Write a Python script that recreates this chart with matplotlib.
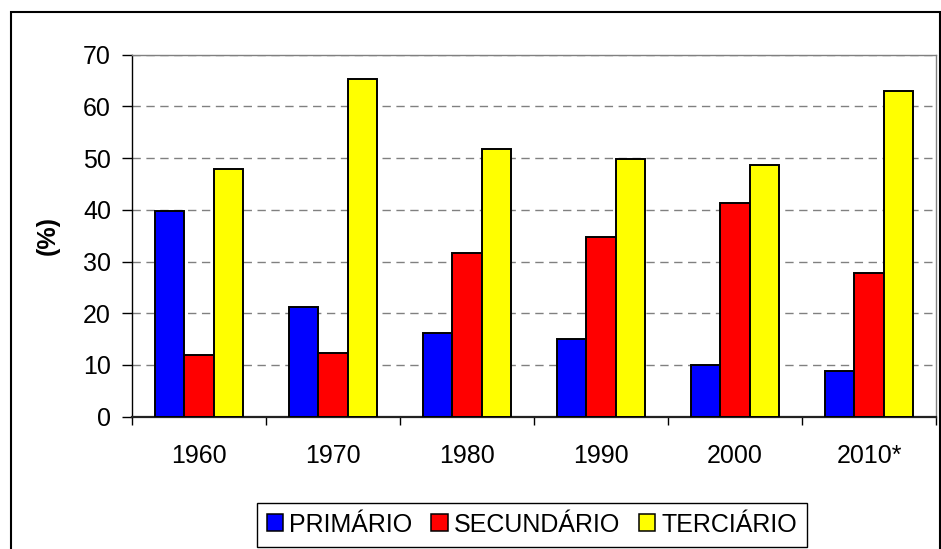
import numpy as np
from matplotlib import pyplot as plt
from matplotlib import rcParams
from matplotlib.patches import Rectangle

rcParams['font.family'] = ['Liberation Sans', 'DejaVu Sans']
rcParams['font.size'] = 18

years = ['1960', '1970', '1980', '1990', '2000', '2010*']
primario = [39.8, 21.3, 16.2, 15.0, 10.0, 8.9]
secundario = [11.9, 12.4, 31.7, 34.7, 41.4, 27.8]
terciario = [47.9, 65.3, 51.8, 49.9, 48.7, 63.0]

series = [
    ('PRIMÁRIO', primario, '#0000ff'),
    ('SECUNDÁRIO', secundario, '#ff0000'),
    ('TERCIÁRIO', terciario, '#ffff00'),
]

fig = plt.figure(figsize=(9.41, 5.49), dpi=100)
W, H = 941.0, 549.0
ax = fig.add_axes([132 / W, 1 - 416.7 / H, 804 / W, 362 / H])

x = np.arange(len(years))
width = 0.22
for i, (label, vals, color) in enumerate(series):
    ax.bar(x + (i - 1) * width, vals, width, color=color, edgecolor='black',
           linewidth=1.4, label=label, zorder=3)

ax.set_xlim(-0.5, len(years) - 0.5)
ax.set_ylim(0, 70)
ax.set_yticks(range(0, 71, 10))
ax.yaxis.grid(True, color='#808080', linestyle=(0, (6, 4)), linewidth=1.0, zorder=0)

# category separators as major ticks, year labels on minor ticks
ax.set_xticks(np.arange(-0.5, len(years), 1.0))
ax.set_xticklabels([])
ax.set_xticks(x, minor=True)
ax.set_xticklabels(years, minor=True)
ax.tick_params(axis='x', which='major', direction='out', length=6, width=1, color='black')
ax.tick_params(axis='x', which='minor', length=0, pad=20)
ax.tick_params(axis='y', direction='out', length=7.2, width=1, color='black', pad=8)

for side in ('top', 'right'):
    ax.spines[side].set_color('#808080')
    ax.spines[side].set_linewidth(1.0)
ax.spines['left'].set_color('black')
ax.spines['left'].set_linewidth(1.0)
ax.spines['bottom'].set_color('#222222')
ax.spines['bottom'].set_linewidth(1.6)

ax.set_ylabel('(%)', fontweight='bold')
ax.yaxis.set_label_coords((60 - 132) / 804, 0.5)

leg = fig.legend(loc='center', bbox_to_anchor=(532 / W, 1 - 524.5 / H), ncol=3,
                 frameon=True, fancybox=False, edgecolor='black', framealpha=1,
                 handlelength=0.65, handleheight=0.65, handletextpad=0.25,
                 columnspacing=0.75, borderpad=0.4, borderaxespad=0)
leg.get_frame().set_linewidth(1.0)
for h in leg.legend_handles:
    h.set_linewidth(1.1)

# outer chart border
fig.patches.append(Rectangle((11 / W, -0.1), (940 - 11) / W, 1 - 12 / H + 0.1,
                             transform=fig.transFigure, fill=False,
                             edgecolor='black', linewidth=1.5))

fig.savefig('out.png', dpi=100)
